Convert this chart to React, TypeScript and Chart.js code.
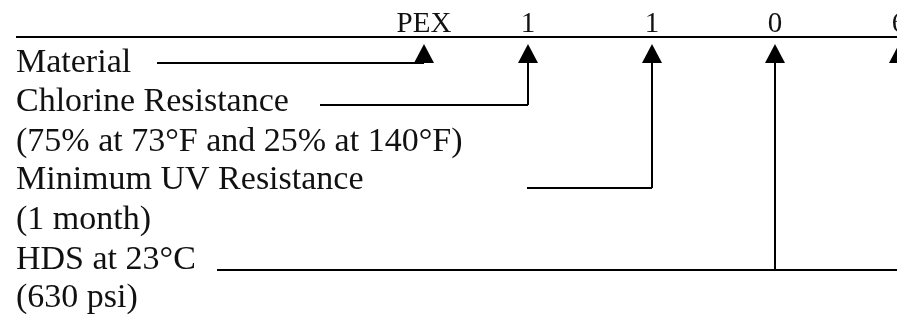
import React, { useEffect, useRef } from "react";
import { Chart, registerables } from "chart.js";

Chart.register(...registerables);

// Header codes and the column on the axis that each one labels
const headerCodes = ["PEX", "1", "1", "0", "6"];
const codeColumnX = [424, 528, 652, 775, 899];

// Row captions on the left and their baselines
const rowTexts = [
  "Material",
  "Chlorine Resistance",
  "(75% at 73°F and 25% at 140°F)",
  "Minimum UV Resistance",
  "(1 month)",
  "HDS at 23°C",
  "(630 psi)",
];
const rowBaselineY = [72, 111, 151, 189, 229, 269, 307];

// Leader lines: one per property, from its caption to its code column
const leaderStartX = [157, 320, 527, 217];
const leaderEndX = [424, 528, 652, 897];
const leaderColumnX = [424, 528, 652, 775];
const leaderY = [63, 105, 188, 270];

// Rule under the header codes and the arrow heads
const ruleStartX = 16;
const ruleEndX = 897;
const ruleY = 37;
const arrowTipY = 44;
const arrowBaseY = 63;
const headerBaselineY = 32;
const textLeftX = 16;

const WIDTH = 897;
const HEIGHT = 318;

export default function App() {
  const ref = useRef<HTMLCanvasElement | null>(null);

  useEffect(() => {
    document.body.style.margin = "0";
    const canvas = ref.current;
    if (!canvas) return;

    const arrowH = arrowBaseY - arrowTipY;
    const arrowW = 20;
    const tri = document.createElement("canvas");
    tri.width = arrowW;
    tri.height = arrowH;
    const tctx = tri.getContext("2d")!;
    tctx.fillStyle = "#000";
    tctx.beginPath();
    tctx.moveTo(arrowW / 2, 0);
    tctx.lineTo(arrowW, arrowH);
    tctx.lineTo(0, arrowH);
    tctx.closePath();
    tctx.fill();

    const lineStyle = {
      showLine: true,
      borderColor: "#000",
      borderWidth: 2,
      pointRadius: 0,
      pointHoverRadius: 0,
      fill: false,
      tension: 0,
      borderCapStyle: "butt" as const,
      borderJoinStyle: "miter" as const,
      clip: false as const,
    };

    const datasets: any[] = [];
    datasets.push({
      ...lineStyle,
      data: [
        { x: ruleStartX, y: ruleY },
        { x: ruleEndX, y: ruleY },
      ],
    });
    leaderY.forEach((y, i) => {
      datasets.push({
        ...lineStyle,
        data: [
          { x: leaderStartX[i], y },
          { x: leaderEndX[i], y },
        ],
      });
      datasets.push({
        ...lineStyle,
        data: [
          { x: leaderColumnX[i], y },
          { x: leaderColumnX[i], y: arrowBaseY },
        ],
      });
    });
    datasets.push({
      showLine: false,
      pointStyle: tri,
      pointRadius: 10,
      pointHoverRadius: 10,
      clip: false,
      data: codeColumnX.map((x) => ({ x, y: (arrowTipY + arrowBaseY) / 2 })),
    });

    const textPlugin = {
      id: "textLabels",
      afterDatasetsDraw(chart: any) {
        const ctx = chart.ctx as CanvasRenderingContext2D;
        const xs = chart.scales.x;
        const ys = chart.scales.y;
        ctx.save();
        ctx.fillStyle = "#111";
        ctx.textBaseline = "alphabetic";
        ctx.font = '29px "Liberation Serif", "Times New Roman", serif';
        ctx.textAlign = "center";
        headerCodes.forEach((t, i) => {
          ctx.fillText(t, xs.getPixelForValue(codeColumnX[i]), ys.getPixelForValue(headerBaselineY));
        });
        ctx.font = '34px "Liberation Serif", "Times New Roman", serif';
        ctx.textAlign = "left";
        rowTexts.forEach((t, i) => {
          ctx.fillText(t, xs.getPixelForValue(textLeftX), ys.getPixelForValue(rowBaselineY[i]));
        });
        ctx.restore();
      },
    };

    const chart = new Chart(canvas, {
      type: "scatter",
      data: { datasets },
      options: {
        animation: false,
        responsive: false,
        maintainAspectRatio: false,
        events: [],
        layout: { padding: 0, autoPadding: false } as any,
        plugins: {
          legend: { display: false },
          tooltip: { enabled: false },
          title: { display: false },
        },
        scales: {
          x: { type: "linear", min: 0, max: WIDTH, display: false },
          y: { type: "linear", min: 0, max: HEIGHT, reverse: true, display: false },
        },
      },
      plugins: [textPlugin],
    });

    return () => chart.destroy();
  }, []);

  return (
    <div style={{ position: "fixed", left: 0, top: 0, width: WIDTH, height: HEIGHT, background: "#fff" }}>
      <canvas ref={ref} width={WIDTH} height={HEIGHT} style={{ display: "block" }} />
    </div>
  );
}
